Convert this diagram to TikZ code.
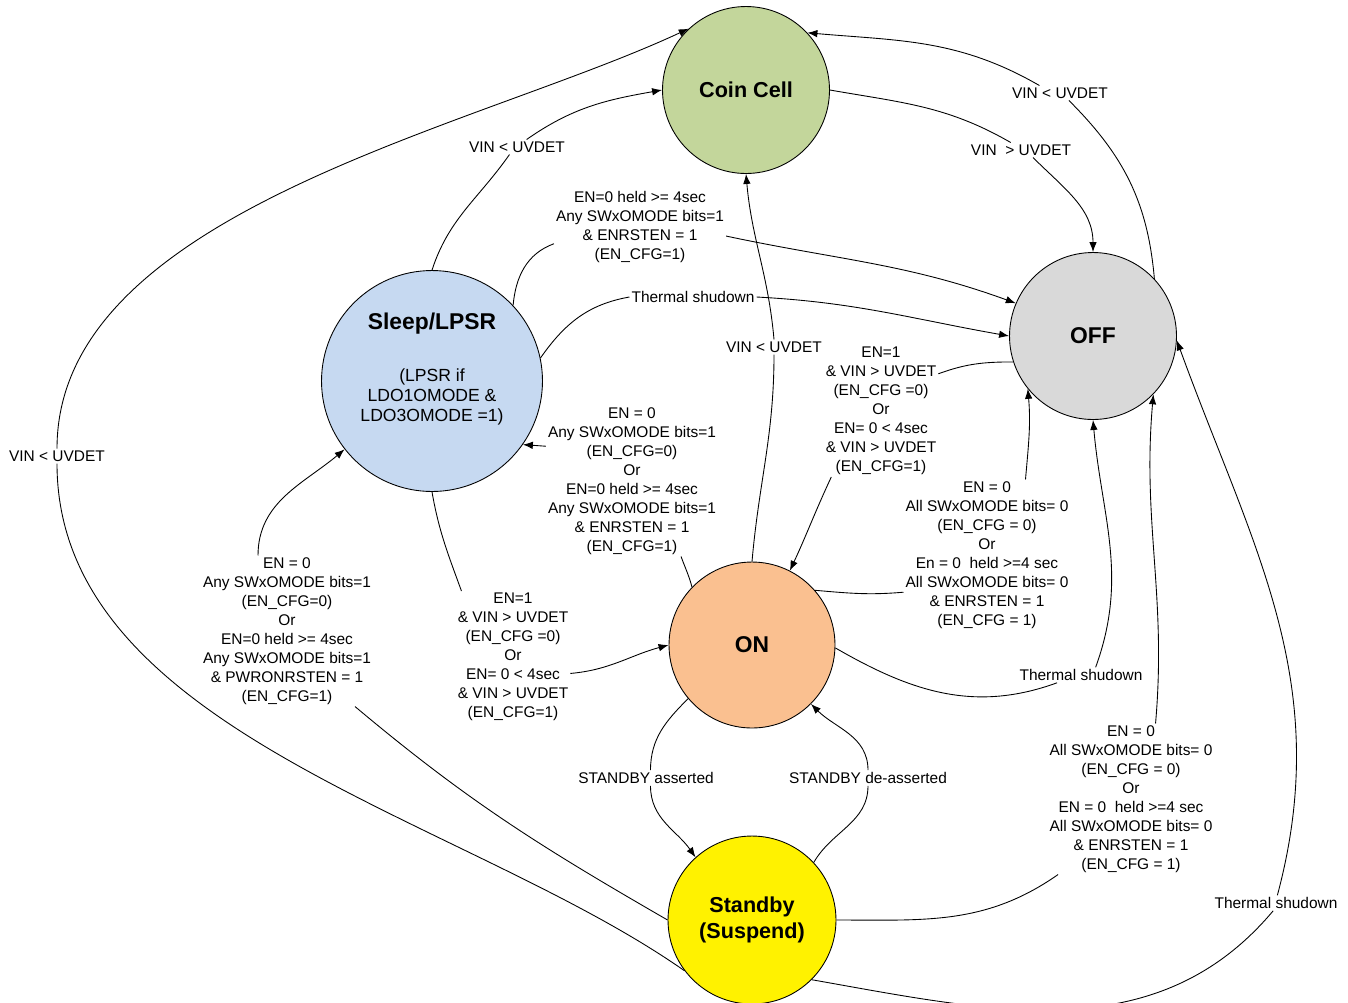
\documentclass[tikz,border=0pt]{standalone}
\usepackage{fontspec}
\setmainfont{Liberation Sans}
\usetikzlibrary{arrows.meta}
\definecolor{coingreen}{RGB}{195,214,155}
\definecolor{sleepblue}{RGB}{198,217,241}
\definecolor{offgray}{RGB}{217,217,217}
\definecolor{onpeach}{RGB}{250,192,144}
\begin{document}
\begin{tikzpicture}[x=0.02cm,y=-0.02cm,
  state/.style={circle,draw,line width=0.5pt,inner sep=0pt,align=center},
  cond/.style={align=center,inner sep=1pt,font=\fontsize{8.8}{10.8}\selectfont},
  tr/.style={-{Latex[length=2mm,width=1.5mm]},line width=0.5pt}]
\useasboundingbox (0,0) rectangle (1348,1002);

\node (coin) [state,fill=coingreen,minimum size=3.34cm,font=\fontsize{12.3}{14.8}\selectfont\bfseries] at (746,90) {Coin Cell};
\node (off) [state,fill=offgray,minimum size=3.34cm,font=\fontsize{13}{15}\selectfont\bfseries] at (1093,336) {OFF};
\node (sleep) [state,fill=sleepblue,minimum size=4.42cm,font=\fontsize{10}{11.6}\selectfont] at (432,381) {{\fontsize{13}{15}\selectfont\bfseries Sleep/LPSR}\\[18pt](LPSR if\\ LDO1OMODE \&\\ LDO3OMODE =1)\\[4pt]\mbox{}};
\node (on) [state,fill=onpeach,minimum size=3.32cm,font=\fontsize{13}{15}\selectfont\bfseries] at (752,645) {ON};
\node (stby) [state,fill=yellow,minimum size=3.36cm,font=\fontsize{12.3}{14.8}\selectfont\bfseries] at (752,920) {Standby\\(Suspend)};

\node (sbcoin) [cond] at (57,456) {VIN < UVDET};
\node (slcoin) [cond] at (517,147) {VIN < UVDET};
\node (sloff) [cond] at (640,227) {EN=0 held >= 4sec\\Any SWxOMODE bits=1\\\& ENRSTEN = 1\\(EN\_CFG=1)};
\node (slofft) [cond] at (693,297) {Thermal shudown};
\node (onsl) [cond] at (632,481) {EN = 0\\Any SWxOMODE bits=1\\(EN\_CFG=0)\\Or\\EN=0 held >= 4sec\\Any SWxOMODE bits=1\\\& ENRSTEN = 1\\(EN\_CFG=1)};
\node (slon) [cond] at (513,657) {EN=1\\\& VIN > UVDET\\(EN\_CFG =0)\\Or\\EN= 0 < 4sec\\\& VIN > UVDET\\(EN\_CFG=1)};
\node (sbsl) [cond] at (287,631) {EN = 0\\Any SWxOMODE bits=1\\(EN\_CFG=0)\\Or\\EN=0 held >= 4sec\\Any SWxOMODE bits=1\\\& PWRONRSTEN = 1\\(EN\_CFG=1)};
\node (oncoin) [cond] at (774,347) {VIN < UVDET};
\node (coinoff) [cond] at (1021,150) {VIN\ \ > UVDET};
\node (offcoin) [cond] at (1060,93) {VIN < UVDET};
\node (offon) [cond] at (881,411) {EN=1\\\& VIN > UVDET\\(EN\_CFG =0)\\Or\\EN= 0 < 4sec\\\& VIN > UVDET\\(EN\_CFG=1)};
\node (onoff) [cond] at (987,555) {EN = 0\\All SWxOMODE bits= 0\\(EN\_CFG = 0)\\Or\\En = 0\ \ held >=4 sec\\All SWxOMODE bits= 0\\\& ENRSTEN = 1\\(EN\_CFG = 1)};
\node (onofft) [cond] at (1081,675) {Thermal shudown};
\node (sboff) [cond] at (1131,799) {EN = 0\\All SWxOMODE bits= 0\\(EN\_CFG = 0)\\Or\\EN = 0\ \ held >=4 sec\\All SWxOMODE bits= 0\\\& ENRSTEN = 1\\(EN\_CFG = 1)};
\node (sbofft) [cond] at (1276,903) {Thermal shudown};
\node (onsb) [cond] at (646,778) {STANDBY asserted};
\node (sbon) [cond] at (868,778) {STANDBY de-asserted};

\draw [tr] (stby.217) to[out=145,in=-90,looseness=0.85] (sbcoin.south) (sbcoin.north) to[out=90,in=205,looseness=0.8] (coin.133);
\draw [tr] (sleep.90) to[out=72,in=235] (slcoin.225) (slcoin.38) to[out=35,in=190] (coin.180);
\draw [tr] (sleep.43) to[out=85,in=200] (sloff.191) (sloff.-6) to[out=-12,in=160] (off.157);
\draw [tr] (sleep.12) to[out=55,in=190] (slofft.west) (slofft.east) to[out=-3,in=170] (off.180);
\draw [tr] (on.136) to[out=105,in=-70] (onsl.-57) (onsl.158) -- (sleep.-35);
\draw [tr] (sleep.270) to[out=-80,in=110] (slon.128) (slon.-16) to[out=5,in=195] (on.180);
\draw [tr] (stby.180) to[out=150,in=-40] (sbsl.-48) (sbsl.111) to[out=90,in=220] (sleep.218);
\draw [tr] (on.90) to[out=85,in=-90] (oncoin.south) (oncoin.north) to[out=95,in=-85] (coin.270);
\draw [tr] (coin.0) to[out=-10,in=150] (coinoff.144) (coinoff.-32) to[out=-45,in=90] (off.90);
\draw [tr] (off.43) to[out=95,in=-45] (offcoin.-40) (offcoin.160) to[out=150,in=-5] (coin.43);
\draw [tr] (off.198) to[out=180,in=20] (offon.33) (offon.-127) to[out=-115,in=65] (on.63);
\draw [tr] (on.41) to[out=-5,in=185] (onoff.204) (onoff.63) to[out=85,in=-85] (off.219);
\draw [tr] (on.-2) to[out=-30,in=200] (onofft.198) (onofft.28) to[out=70,in=-85] (off.270);
\draw [tr] (stby.0) to[out=0,in=215] (sboff.226) (sboff.72) to[out=85,in=-95] (off.316);
\draw [tr] (stby.315) to[out=-10,in=230] (sbofft.250) (sbofft.80) to[out=75,in=-70] (off.-3);
\draw [tr] (on.220) to[out=225,in=90] (onsb.60) (onsb.-60) to[out=-90,in=125] (stby.132);
\draw [tr] (stby.43) to[out=60,in=-90] (sbon.south) (sbon.north) to[out=90,in=-45] (on.315);
\end{tikzpicture}
\end{document}
